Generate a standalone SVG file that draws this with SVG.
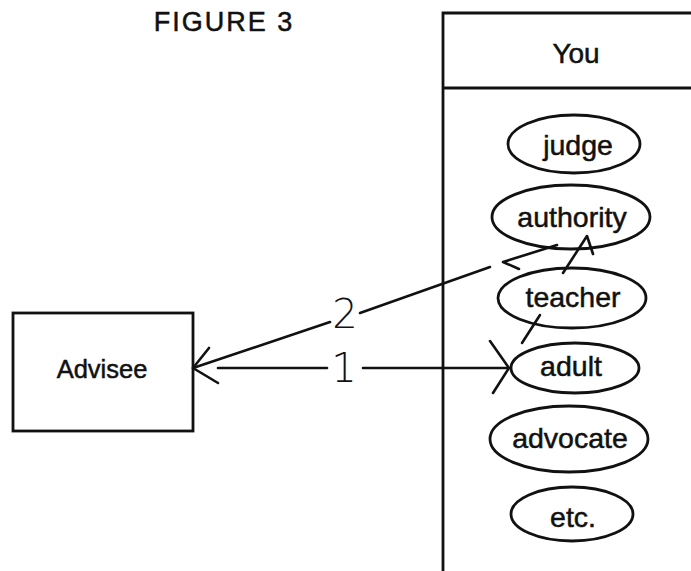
<svg xmlns="http://www.w3.org/2000/svg" width="691" height="571" viewBox="0 0 691 571">
<style>
.bg{fill:#fff}
.sh{fill:none;stroke:#111;stroke-width:2.8}
.ln{fill:none;stroke:#111;stroke-width:2.6;stroke-linecap:round;stroke-linejoin:round}
.t{font-family:"Liberation Sans",Arial,sans-serif;fill:#111;stroke:#111;stroke-width:0.5;text-anchor:middle}
.lb{font-size:28.5px}
.num{font-size:40px;font-family:"DejaVu Sans","Liberation Sans",sans-serif;font-weight:300;fill:#111;text-anchor:middle}
</style>
<rect class="bg" x="0" y="0" width="691" height="571"/>
<text class="t" x="224" y="31" font-size="27" letter-spacing="2">FIGURE 3</text>
<g id="you">
<path class="sh" d="M691 13 H443 V571 M443 88 H691"/>
<text class="t" x="576" y="63" font-size="28">You</text>
</g>
<g id="judge">
<ellipse class="sh" cx="574" cy="144" rx="66" ry="29"/>
<text class="t lb" x="578" y="155">judge</text>
</g>
<g id="authority">
<ellipse class="sh" cx="571" cy="217" rx="79" ry="32"/>
<text class="t lb" x="572" y="227">authority</text>
</g>
<g id="teacher">
<ellipse class="sh" cx="572" cy="298" rx="74" ry="30"/>
<text class="t lb" x="573" y="307">teacher</text>
</g>
<g id="adult">
<ellipse class="sh" cx="575" cy="368" rx="64" ry="25"/>
<text class="t lb" x="571" y="376">adult</text>
</g>
<g id="advocate">
<ellipse class="sh" cx="569" cy="439" rx="79" ry="33"/>
<text class="t lb" x="570" y="448">advocate</text>
</g>
<g id="etc">
<ellipse class="sh" cx="572" cy="514" rx="61" ry="27"/>
<text class="t lb" x="573" y="527">etc.</text>
</g>
<g id="advisee">
<rect class="sh" x="13" y="313" width="180" height="118"/>
<text class="t" x="102" y="378" font-size="25.5">Advisee</text>
</g>
<g id="connectors">
<polyline class="ln" points="209,348 193,368 218,383"/>
<line class="ln" x1="218" y1="368" x2="327" y2="368"/>
<line class="ln" x1="363" y1="368" x2="508" y2="368"/>
<polyline class="ln" points="490,341 509,368 493,393"/>
<text class="num" x="344" y="382">1</text>
<line class="ln" x1="193" y1="368" x2="330" y2="322"/>
<line class="ln" x1="360" y1="313" x2="490" y2="267"/>
<text class="num" x="345" y="328">2</text>
<polyline class="ln" points="557,245 503,262 519,269"/>
<polyline class="ln" points="563,273 587,236 593,254"/>
<line class="ln" x1="540" y1="315" x2="522" y2="343"/>
</g>
</svg>
